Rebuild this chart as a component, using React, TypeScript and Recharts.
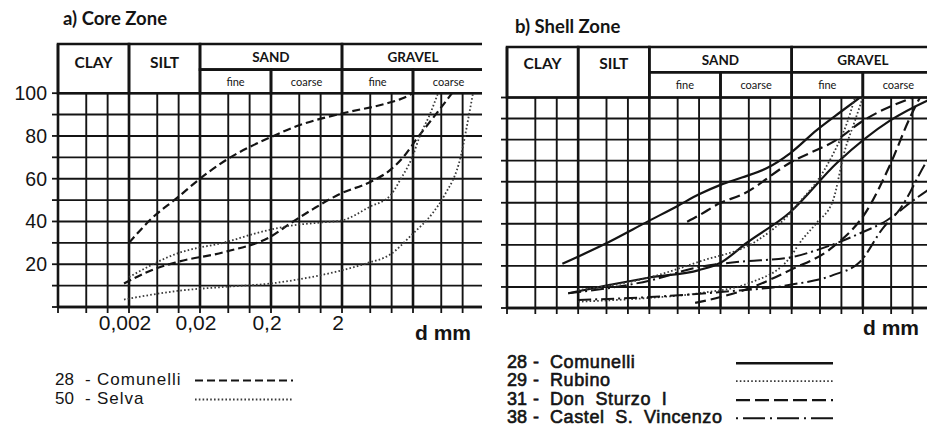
import React from 'react';
import { LineChart, Line, XAxis, YAxis, ReferenceLine, ReferenceArea } from 'recharts';

type Pt = { d: number; p: number };

const INK = '#141414';
const SANS = '"Liberation Sans", Arial, Helvetica, sans-serif';
const HEAD = 'Lato, "Open Sans", sans-serif';

// grain diameter grid (mm), log scale, three cells per decade
const gridSizes = [
  0.0002, 0.0005, 0.001, 0.002, 0.005, 0.01, 0.02, 0.05, 0.1, 0.2, 0.5, 1, 2, 5, 10, 20, 50, 100, 200,
];
const decadeSizes = [0.002, 0.02, 0.2, 2, 20];
const labelledSizes = [0.002, 0.02, 0.2, 2];
const percentLines = [0, 10, 20, 30, 40, 50, 60, 70, 80, 90, 100];
const percentLabels = [20, 40, 60, 80, 100];

// classification header
const fractions = [
  { name: 'CLAY', from: 0.0002, to: 0.002 },
  { name: 'SILT', from: 0.002, to: 0.02 },
];
const groups = [
  { name: 'SAND', from: 0.02, to: 2 },
  { name: 'GRAVEL', from: 2, to: 200 },
];
const subFractions = [
  { name: 'fine', from: 0.02, to: 0.2 },
  { name: 'coarse', from: 0.2, to: 2 },
  { name: 'fine', from: 2, to: 20 },
  { name: 'coarse', from: 20, to: 200 },
];

// a) core zone — percent passing vs diameter
const coreComunelliFine: Pt[] = [
  { d: 0.002, p: 30 }, { d: 0.0042, p: 41.5 }, { d: 0.0095, p: 51 }, { d: 0.02, p: 60 },
  { d: 0.048, p: 69 }, { d: 0.2, p: 79.5 }, { d: 0.5, p: 85 }, { d: 2, p: 90.5 },
  { d: 8, p: 95 }, { d: 14, p: 97.5 }, { d: 20, p: 100 },
];
const coreComunelliCoarse: Pt[] = [
  { d: 0.0017, p: 11 }, { d: 0.004, p: 17 }, { d: 0.0095, p: 21 }, { d: 0.048, p: 26 },
  { d: 0.2, p: 33 }, { d: 0.37, p: 39 }, { d: 0.8, p: 46 }, { d: 1.9, p: 53 },
  { d: 5, p: 58.5 }, { d: 9.5, p: 64 }, { d: 14.5, p: 70 }, { d: 23, p: 79 },
  { d: 44, p: 91 }, { d: 71, p: 100 },
];
const coreSelvaFine: Pt[] = [
  { d: 0.002, p: 14 }, { d: 0.0095, p: 25 }, { d: 0.048, p: 30.5 }, { d: 0.14, p: 35 },
  { d: 0.37, p: 38 }, { d: 1, p: 39.5 }, { d: 2, p: 40.5 }, { d: 5, p: 47 },
  { d: 9.5, p: 52 }, { d: 13.5, p: 60 }, { d: 19.5, p: 70 }, { d: 25, p: 80 },
  { d: 35, p: 90.5 }, { d: 45, p: 100 },
];
const coreSelvaCoarse: Pt[] = [
  { d: 0.0017, p: 3.5 }, { d: 0.0095, p: 7.5 }, { d: 0.048, p: 9.5 }, { d: 0.2, p: 11 },
  { d: 0.41, p: 12.5 }, { d: 1.9, p: 17 }, { d: 4.5, p: 20.5 }, { d: 9.5, p: 24.5 },
  { d: 19.5, p: 34 }, { d: 38, p: 44 }, { d: 55, p: 52 }, { d: 95, p: 71 },
  { d: 120, p: 88 }, { d: 140, p: 100 },
];

// b) shell zone
const shellComunelliFine: Pt[] = [
  { d: 0.0012, p: 21 }, { d: 0.0045, p: 30 }, { d: 0.02, p: 41.5 }, { d: 0.05, p: 48.5 },
  { d: 0.1, p: 54 }, { d: 0.2, p: 58.5 }, { d: 0.4, p: 62 }, { d: 0.9, p: 66.5 },
  { d: 1.9, p: 73.5 }, { d: 4.5, p: 84.5 }, { d: 9.6, p: 93 }, { d: 18.3, p: 100 },
];
const shellComunelliCoarse: Pt[] = [
  { d: 0.00145, p: 7 }, { d: 0.0056, p: 11 }, { d: 0.02, p: 14.5 }, { d: 0.1, p: 18 },
  { d: 0.2, p: 21.5 }, { d: 0.47, p: 31 }, { d: 1.9, p: 45.5 }, { d: 8.7, p: 69 },
  { d: 48, p: 89 }, { d: 160, p: 98.5 }, { d: 200, p: 100 },
];
const shellRubinoFine: Pt[] = [
  { d: 0.002, p: 8.5 }, { d: 0.02, p: 14.5 }, { d: 0.1, p: 22 }, { d: 0.65, p: 32 },
  { d: 1.9, p: 45 }, { d: 2.6, p: 50.5 }, { d: 4.5, p: 60 }, { d: 7.6, p: 73 },
  { d: 12, p: 88 }, { d: 15.5, p: 100 },
];
const shellRubinoCoarse: Pt[] = [
  { d: 0.002, p: 3 }, { d: 0.02, p: 4.8 }, { d: 0.1, p: 7 }, { d: 0.52, p: 12 },
  { d: 1.9, p: 24 }, { d: 2.6, p: 31 }, { d: 4.5, p: 40.5 }, { d: 7.6, p: 51 },
  { d: 11.2, p: 75 }, { d: 15.5, p: 89 }, { d: 20, p: 100 },
];
const shellDonSturzoFine: Pt[] = [
  { d: 0.068, p: 41 }, { d: 0.1, p: 44 }, { d: 0.2, p: 50 }, { d: 0.38, p: 53.5 },
  { d: 1.9, p: 69 }, { d: 9.6, p: 81 }, { d: 18.3, p: 88 }, { d: 101, p: 100 },
];
const shellDonSturzoCoarse: Pt[] = [
  { d: 0.088, p: 2.4 }, { d: 0.2, p: 5.2 }, { d: 0.52, p: 9.5 }, { d: 1.9, p: 18 },
  { d: 7.6, p: 29 }, { d: 22.9, p: 46.4 }, { d: 48, p: 67.8 }, { d: 92, p: 90.5 },
  { d: 127, p: 100 },
];
const shellCastelFine: Pt[] = [
  { d: 0.00145, p: 7 }, { d: 0.02, p: 13 }, { d: 0.1, p: 19.5 }, { d: 0.38, p: 22 },
  { d: 1.9, p: 24 }, { d: 4.5, p: 27.5 }, { d: 18.3, p: 35.5 }, { d: 43.8, p: 41.7 },
  { d: 101, p: 51 }, { d: 200, p: 58 },
];
const shellCastelCoarse: Pt[] = [
  { d: 0.002, p: 3.8 }, { d: 0.02, p: 5.2 }, { d: 0.2, p: 7.6 }, { d: 1.9, p: 11 },
  { d: 7.6, p: 15.6 }, { d: 18.3, p: 22 }, { d: 38.4, p: 38 }, { d: 66.5, p: 47 },
  { d: 160, p: 70 }, { d: 200, p: 75 },
];

type LineStyle = { stroke: string; strokeWidth: number; strokeDasharray?: string };

const solid: LineStyle = { stroke: INK, strokeWidth: 2.2 };
const dotted: LineStyle = { stroke: '#3a3a3a', strokeWidth: 1.8, strokeDasharray: '1.6 2.2' };
const shortDash: LineStyle = { stroke: INK, strokeWidth: 2.2, strokeDasharray: '8 4' };
const longDash: LineStyle = { stroke: INK, strokeWidth: 2.2, strokeDasharray: '11 5' };
const dashDot: LineStyle = { stroke: INK, strokeWidth: 2, strokeDasharray: '13 4 2 4' };

const coreSeries = [
  { key: 'c28a', data: coreComunelliFine, style: shortDash },
  { key: 'c28b', data: coreComunelliCoarse, style: shortDash },
  { key: 'c50a', data: coreSelvaFine, style: dotted },
  { key: 'c50b', data: coreSelvaCoarse, style: dotted },
];
const shellSeries = [
  { key: 's28a', data: shellComunelliFine, style: solid },
  { key: 's28b', data: shellComunelliCoarse, style: solid },
  { key: 's29a', data: shellRubinoFine, style: dotted },
  { key: 's29b', data: shellRubinoCoarse, style: dotted },
  { key: 's31a', data: shellDonSturzoFine, style: longDash },
  { key: 's31b', data: shellDonSturzoCoarse, style: longDash },
  { key: 's38a', data: shellCastelFine, style: dashDot },
  { key: 's38b', data: shellCastelCoarse, style: dashDot },
];

const coreLegend = [
  { num: '28', name: 'Comunelli', style: shortDash },
  { num: '50', name: 'Selva', style: dotted },
];
const shellLegend = [
  { num: '28', name: 'Comunelli', style: { ...solid, strokeWidth: 2.6 } },
  { num: '29', name: 'Rubino', style: dotted },
  { num: '31', name: 'Don Sturzo I', style: { ...longDash, strokeDasharray: '14 5' } },
  { num: '38', name: 'Castel S. Vincenzo', style: { ...dashDot, strokeDasharray: '2 5 22 5' } },
];

const headLabel = (text: string, size: number, weight: number, offsetY?: number) => (props: any) => {
  const vb = props.viewBox || {};
  const y = offsetY == null ? vb.y + vb.height / 2 : vb.y + offsetY;
  return (
    <text
      x={vb.x + vb.width / 2}
      y={y}
      textAnchor="middle"
      dominantBaseline="central"
      fontFamily={HEAD}
      fontSize={size}
      fontWeight={weight}
      fill={INK}
    >
      {text}
    </text>
  );
};

const SizeTick = (props: any) => {
  const { x, y, payload } = props;
  if (!labelledSizes.includes(payload.value)) return <g />;
  return (
    <text x={x - 4} y={y} dy="0.71em" textAnchor="middle" fontFamily={SANS} fontSize={21} fill={INK}>
      {String(payload.value).replace('.', ',')}
    </text>
  );
};

const PercentTick = (props: any) => {
  const { x, y, payload } = props;
  if (!percentLabels.includes(payload.value)) return <g />;
  return (
    <text x={x} y={y} textAnchor="end" dominantBaseline="central" fontFamily={SANS} fontSize={19.5} fill={INK}>
      {payload.value}
    </text>
  );
};

const EmptyTick = () => <g />;

type PanelProps = {
  left: number;
  clipWidth: number;
  chartWidth: number;
  axisWidth: number;
  top: number;
  plotHeight: number;
  yTop: number;
  ySplit: number;
  series: { key: string; data: Pt[]; style: LineStyle }[];
  labels: boolean;
  clayOffset: number;
};

function GradingPanel(props: PanelProps) {
  const { left, clipWidth, chartWidth, axisWidth, top, plotHeight, yTop, ySplit, series, labels, clayOffset } = props;
  const height = top + plotHeight + 40;
  return (
    <div style={{ position: 'absolute', left, top: 0, width: clipWidth, height, overflow: 'hidden' }}>
      <LineChart width={chartWidth} height={height} margin={{ top, right: 0, bottom: 0, left: 0 }}>
        <XAxis
          type="number"
          dataKey="d"
          scale="log"
          domain={[0.0002, 200]}
          ticks={gridSizes}
          interval={0}
          allowDataOverflow
          height={40}
          tickSize={6}
          tickMargin={2}
          axisLine={{ stroke: INK, strokeWidth: 2.6 }}
          tickLine={{ stroke: INK, strokeWidth: 1.8 }}
          tick={labels ? SizeTick : EmptyTick}
        />
        <YAxis
          type="number"
          domain={[0, yTop]}
          ticks={percentLines}
          interval={0}
          allowDataOverflow
          width={axisWidth}
          tickSize={6}
          tickMargin={5}
          axisLine={{ stroke: INK, strokeWidth: 2.6 }}
          tickLine={{ stroke: INK, strokeWidth: 1.8 }}
          tick={labels ? PercentTick : EmptyTick}
        />

        {percentLines.map((v) => (
          <ReferenceLine key={'h' + v} y={v} stroke={INK} strokeWidth={v === 0 ? 2.6 : 1.9} />
        ))}
        {gridSizes.map((d) => (
          <ReferenceLine
            key={'v' + d}
            segment={[{ x: d, y: 0 }, { x: d, y: 100 }]}
            stroke={INK}
            strokeWidth={decadeSizes.includes(d) ? 2.6 : 1.9}
          />
        ))}

        {fractions.map((f) => (
          <ReferenceArea
            key={f.name}
            x1={f.from}
            x2={f.to}
            y1={100}
            y2={yTop}
            fill="none"
            stroke={INK}
            strokeWidth={2.6}
            label={headLabel(f.name, 15.5, 700, clayOffset)}
          />
        ))}
        {groups.map((g) => (
          <ReferenceArea
            key={g.name}
            x1={g.from}
            x2={g.to}
            y1={ySplit}
            y2={yTop}
            fill="none"
            stroke={INK}
            strokeWidth={2.6}
            label={headLabel(g.name, 13.5, 700)}
          />
        ))}
        {subFractions.map((s) => (
          <ReferenceArea
            key={s.name + s.from}
            x1={s.from}
            x2={s.to}
            y1={100}
            y2={ySplit}
            fill="none"
            stroke={INK}
            strokeWidth={2.6}
            label={headLabel(s.name, 11, 400)}
          />
        ))}

        {series.map((s) => (
          <Line
            key={s.key}
            data={s.data}
            dataKey="p"
            type="monotone"
            dot={false}
            activeDot={false}
            isAnimationActive={false}
            stroke={s.style.stroke}
            strokeWidth={s.style.strokeWidth}
            strokeDasharray={s.style.strokeDasharray}
          />
        ))}
      </LineChart>
    </div>
  );
}

function LegendBlock(props: {
  items: { num: string; name: string; style: LineStyle }[];
  left: number;
  top: number;
  rowHeight: number;
  nameLeft: number;
  dashLeft: number;
  lineLeft: number;
  lineWidth: number;
  fontSize: number;
  heavy: boolean;
}) {
  const { items, left, top, rowHeight, nameLeft, dashLeft, lineLeft, lineWidth, fontSize, heavy } = props;
  const text: React.CSSProperties = {
    position: 'absolute',
    top: 0,
    lineHeight: rowHeight + 'px',
    fontFamily: SANS,
    fontSize,
    color: INK,
    whiteSpace: 'nowrap',
    WebkitTextStroke: heavy ? '0.6px ' + INK : undefined,
  };
  return (
    <>
      {items.map((it, i) => (
        <div key={it.num} style={{ position: 'absolute', left, top: top + i * rowHeight, height: rowHeight, width: 420 }}>
          <span style={{ ...text, left: 0 }}>{it.num}</span>
          <span style={{ ...text, left: dashLeft }}>-</span>
          <span style={{ ...text, left: nameLeft, letterSpacing: heavy ? 0.6 : 1, wordSpacing: heavy ? 5 : 0 }}>
            {it.name}
          </span>
          <svg style={{ position: 'absolute', left: lineLeft, top: 0 }} width={lineWidth} height={rowHeight}>
            <line
              x1={0}
              x2={lineWidth}
              y1={rowHeight / 2 + 1}
              y2={rowHeight / 2 + 1}
              stroke={it.style.stroke}
              strokeWidth={it.style.strokeWidth}
              strokeDasharray={it.style.strokeDasharray}
            />
          </svg>
        </div>
      ))}
    </>
  );
}

export default function App() {
  const title: React.CSSProperties = {
    position: 'absolute',
    fontFamily: HEAD,
    fontWeight: 700,
    fontSize: 18.5,
    lineHeight: '20px',
    color: INK,
    whiteSpace: 'nowrap',
  };
  const unit: React.CSSProperties = {
    position: 'absolute',
    fontFamily: SANS,
    fontWeight: 700,
    fontSize: 21,
    lineHeight: '24px',
    color: INK,
    whiteSpace: 'nowrap',
  };
  return (
    <div
      style={{
        position: 'absolute',
        left: 0,
        top: 0,
        width: 927,
        height: 428,
        overflow: 'hidden',
        background: '#fff',
      }}
    >
      <div style={{ ...title, left: 63, top: 8 }}>a) Core Zone</div>
      <div style={{ ...title, left: 515, top: 16 }}>b) Shell Zone</div>

      <GradingPanel
        left={0}
        clipWidth={482}
        chartWidth={484}
        axisWidth={58}
        top={44}
        plotHeight={263}
        yTop={123}
        ySplit={111}
        series={coreSeries}
        labels
        clayOffset={18}
      />
      <GradingPanel
        left={487}
        clipWidth={440}
        chartWidth={447}
        axisWidth={20}
        top={47}
        plotHeight={261}
        yTop={124}
        ySplit={112}
        series={shellSeries}
        labels={false}
        clayOffset={16}
      />

      <div style={{ ...unit, left: 415, top: 321 }}>d mm</div>
      <div style={{ ...unit, left: 863, top: 316 }}>d mm</div>

      <LegendBlock
        items={coreLegend}
        left={55}
        top={370}
        rowHeight={19}
        dashLeft={30}
        nameLeft={42}
        lineLeft={140}
        lineWidth={98}
        fontSize={17}
        heavy={false}
      />
      <LegendBlock
        items={shellLegend}
        left={507}
        top={353}
        rowHeight={18.4}
        dashLeft={26}
        nameLeft={43}
        lineLeft={229}
        lineWidth={97}
        fontSize={18}
        heavy
      />
    </div>
  );
}
